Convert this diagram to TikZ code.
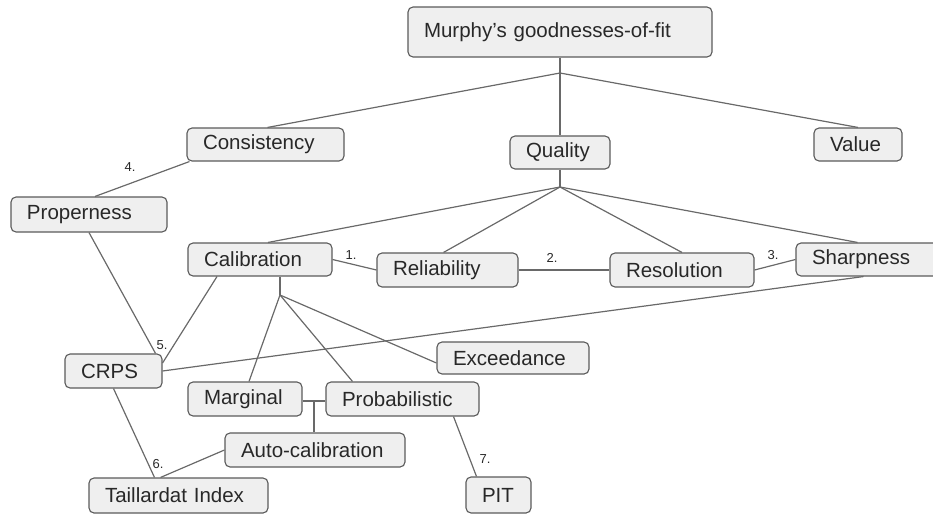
\documentclass[tikz,border=0pt]{standalone}
\usepackage{fontspec}
\setmainfont{Liberation Sans}
\usepackage{tikz}
\usetikzlibrary{calc}
\definecolor{boxfill}{RGB}{239,239,239}
\definecolor{boxline}{RGB}{90,90,90}
\definecolor{linkgrey}{RGB}{105,105,105}
\definecolor{textgrey}{RGB}{40,40,40}
\tikzset{
  base/.style={font=\fontsize{20.5}{24}\selectfont, text=textgrey, align=left, inner xsep=16pt, inner ysep=0pt},
  box/.style={base, rectangle, rounded corners=5pt, draw=boxline, fill=boxfill, line width=1.1pt, minimum height=#1},
  box/.default=34pt,
  link/.style={draw=linkgrey, line width=1.2pt},
  num/.style={font=\fontsize{13}{15}\selectfont, text=textgrey, inner sep=1pt},
}

\begin{document}
\begin{tikzpicture}[x=1pt,y=-1pt]
  \useasboundingbox (0,0) rectangle (933,514);
  % top level
  \node[box=50pt,text width=272pt] (murphy) at (560,32) {Murphy's goodnesses-of-fit};
  \node[box=33pt,text width=125pt] (cons) at (265.5,144.5) {Consistency};
  \node[box=33pt,text width=68pt]  (qual) at (560,152.5) {Quality};
  \node[box=33pt,text width=56pt]  (val)  at (858,144.5) {Value};
  \node[box=35pt,text width=124pt] (prop) at (89,214.5) {Properness};
  % quality branch
  \node[box=33pt,text width=112pt] (calib) at (260,259.5) {Calibration};
  \node[box,text width=109pt] (reli) at (447.5,270) {Reliability};
  \node[box,text width=112pt] (reso) at (682,270) {Resolution};
  \node[box=33pt,text width=117pt] (sharp) at (870.5,259.5) {Sharpness};
  % calibration branch
  \node[box=32pt,text width=120pt] (exce) at (513,358) {Exceedance};
  \node[box,text width=65pt]  (crps) at (113.5,371) {CRPS};
  \node[box,text width=82pt]  (marg) at (245,399) {Marginal};
  \node[box,text width=121pt] (prob) at (402.5,399) {Probabilistic};
  \node[box,text width=148pt] (auto) at (315,450) {Auto-calibration};
  \node[box=35pt,text width=147pt] (tail) at (178.5,495.5) {Taillardat Index};
  \node[box=36pt,text width=33pt]  (pit)  at (498.5,495) {PIT};
  % junctions
  \coordinate (mj) at (560,73);
  \coordinate (qj) at (560,187);
  \coordinate (cj) at (280,295);
  \coordinate (pj) at (314,401);
  % links
  \draw[link] (murphy.south) -- (mj) -- (qual.north);
  \draw[link] (mj) -- ([xshift=2pt]cons.north);
  \draw[link] (mj) -- (val.north);
  \draw[link] (qual.south) -- (qj);
  \draw[link] (qj) -- ([xshift=8pt]calib.north);
  \draw[link] (qj) -- ([xshift=-4pt]reli.north);
  \draw[link] (qj) -- (reso.north);
  \draw[link] (qj) -- ([xshift=-13pt]sharp.north);
  \draw[link] ([xshift=3pt]cons.south west) -- ([xshift=6pt]prop.north);
  \draw[link] (calib.east) -- (reli.west);
  \draw[link] (reli.east) -- (reso.west);
  \draw[link] (reso.east) -- (sharp.west);
  \draw[link] ([xshift=-7pt]sharp.south) -- (crps.east);
  \draw[link] (prop.south) -- ([xshift=-7pt]crps.north east);
  \draw[link] ([xshift=-43pt]calib.south) -- ([yshift=8pt]crps.east);
  \draw[link] ([xshift=20pt]calib.south) -- (cj);
  \draw[link] (cj) -- ([xshift=4pt]marg.north);
  \draw[link] (cj) -- ([xshift=-50pt]prob.north);
  \draw[link] (cj) -- ([yshift=-5pt]exce.west);
  \draw[link] (marg.east |- pj) -- (pj) -- (prob.west |- pj);
  \draw[link] (pj) -- (auto.north -| pj);
  \draw[link] (crps.south) -- ([xshift=-24pt]tail.north);
  \draw[link] (auto.west) -- ([xshift=-18pt]tail.north);
  \draw[link] ([xshift=51pt]prob.south) -- ([xshift=-22pt]pit.north);
  % numbers
  \node[num] (n1) at (351,255) {1.};
  \node[num] (n2) at (552,258) {2.};
  \node[num] (n3) at (773,255) {3.};
  \node[num] (n4) at (130,167) {4.};
  \node[num] (n5) at (162,345) {5.};
  \node[num] (n6) at (158,464) {6.};
  \node[num] (n7) at (485,459) {7.};
\end{tikzpicture}
\end{document}
